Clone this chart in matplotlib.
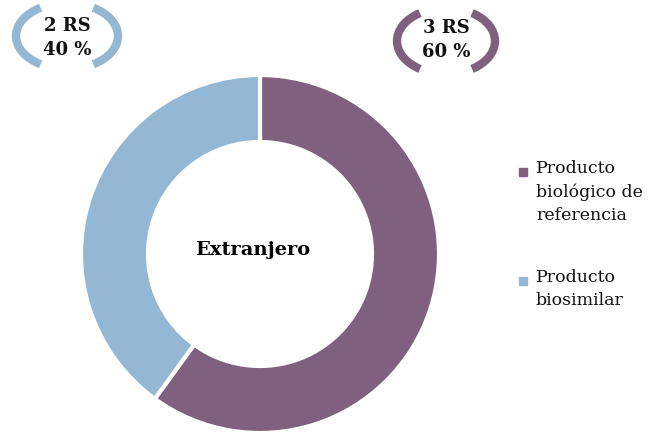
import matplotlib
matplotlib.use("Agg")
import matplotlib.pyplot as plt
from matplotlib.patches import Arc, Rectangle

categories = ["Producto\nbiológico de\nreferencia", "Producto\nbiosimilar"]
values = [60, 40]
counts = ["3 RS", "2 RS"]
title = "Extranjero"
colors = ["#80607F", "#94B7D3"]

plt.rcParams['font.family'] = ['DejaVu Serif']
fig = plt.figure(figsize=(6.5, 4.32), dpi=100)
ax = fig.add_axes([0, 0, 1, 1])
ax.set_xlim(0, 650)
ax.set_ylim(0, 432)
ax.set_aspect('equal')
ax.axis('off')

H = 432
cx, cy, R = 260, H - 254, 179
ax.pie(values, colors=colors, startangle=90, counterclock=False, center=(cx, cy),
       radius=R, wedgeprops=dict(width=R - 112, edgecolor='white', linewidth=3))
ax.set_xlim(0, 650)
ax.set_ylim(0, 432)

ax.text(253, H - 250, title, ha='center', va='center', fontsize=14, fontweight='bold')

# callouts: (text x, text y, bracket center y, half width, index)
callouts = [(446, H - 40, H - 41, 49, 0), (67, H - 38, H - 36, 51, 1)]
for x, y, by, a, i in callouts:
    ax.text(x, y, f"{counts[i]}\n{values[i]} %", ha='center', va='center', fontsize=13,
            fontweight='bold', linespacing=1.45, color='#111111')
    ax.add_patch(Arc((x, by), 2 * a, 66, theta1=133, theta2=227, color=colors[i], lw=6))
    ax.add_patch(Arc((x, by), 2 * a, 66, theta1=-47, theta2=47, color=colors[i], lw=6))

# legend
legend_y = [H - 172, H - 281]
for i, ly in enumerate(legend_y):
    ax.add_patch(Rectangle((519, ly - 4), 8, 8, color=colors[i]))
    ax.text(536, ly + 12, categories[i], ha='left', va='top', fontsize=12.5,
            linespacing=1.48, color='#111111')

fig.savefig("out.png", dpi=100)
